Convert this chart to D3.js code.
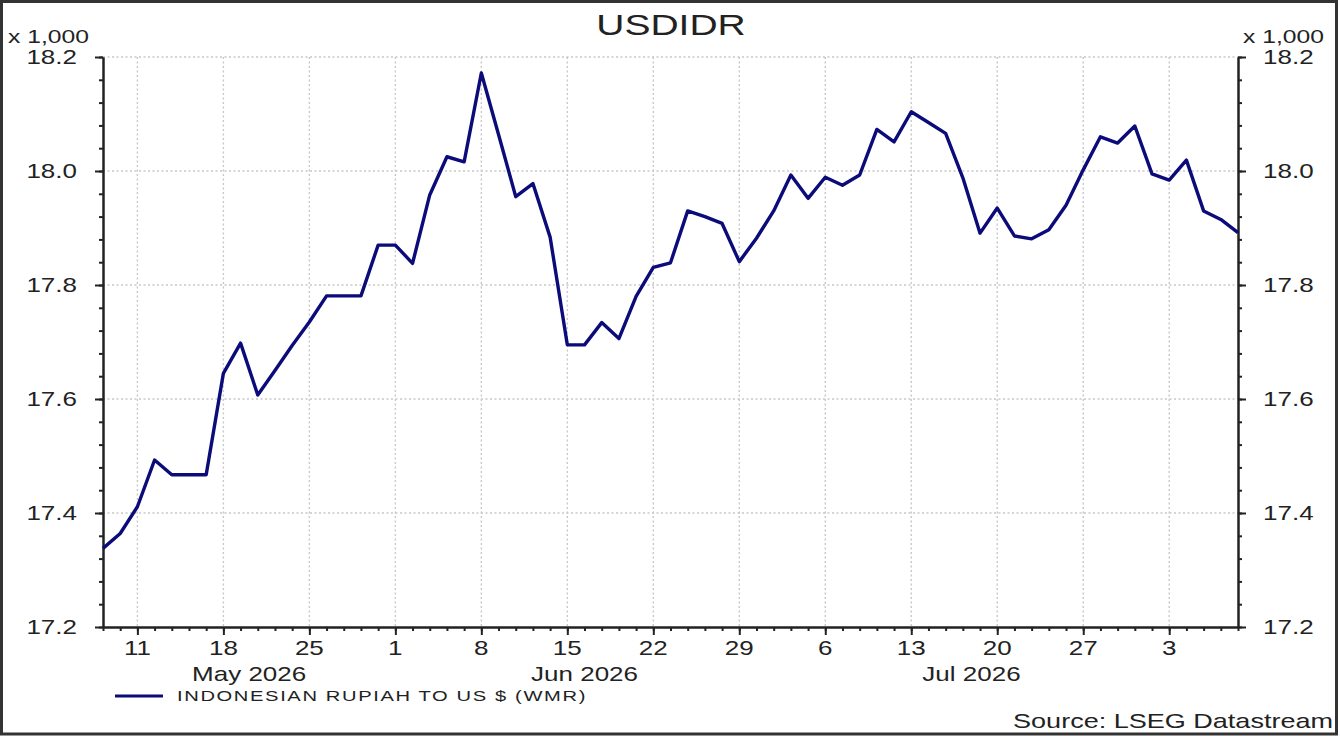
<!DOCTYPE html>
<html>
<head>
<meta charset="utf-8">
<script src="https://cdn.jsdelivr.net/npm/d3@7"></script>
<style>
  html, body { margin: 0; padding: 0; background: #fff; }
  svg { display: block; }
</style>
</head>
<body>
<div id="chart"></div>
<script>
// Business days shown on the x axis (one point per trading day)
const dates = [
    "2026-05-07", "2026-05-08",
    "2026-05-11", "2026-05-12", "2026-05-13", "2026-05-14", "2026-05-15",
    "2026-05-18", "2026-05-19", "2026-05-20", "2026-05-21", "2026-05-22",
    "2026-05-25", "2026-05-26", "2026-05-27", "2026-05-28", "2026-05-29",
    "2026-06-01", "2026-06-02", "2026-06-03", "2026-06-04", "2026-06-05",
    "2026-06-08", "2026-06-09", "2026-06-10", "2026-06-11", "2026-06-12",
    "2026-06-15", "2026-06-16", "2026-06-17", "2026-06-18", "2026-06-19",
    "2026-06-22", "2026-06-23", "2026-06-24", "2026-06-25", "2026-06-26",
    "2026-06-29", "2026-06-30", "2026-07-01", "2026-07-02", "2026-07-03",
    "2026-07-06", "2026-07-07", "2026-07-08", "2026-07-09", "2026-07-10",
    "2026-07-13", "2026-07-14", "2026-07-15", "2026-07-16", "2026-07-17",
    "2026-07-20", "2026-07-21", "2026-07-22", "2026-07-23", "2026-07-24",
    "2026-07-27", "2026-07-28", "2026-07-29", "2026-07-30", "2026-07-31",
    "2026-08-03", "2026-08-04", "2026-08-05", "2026-08-06", "2026-08-07"
];

// Indonesian rupiah per US dollar
const rates = [
    17338, 17364,
    17411, 17493, 17467, 17467, 17467,
    17645, 17698, 17607, 17650, 17694,
    17735, 17781, 17781, 17781, 17870,
    17870, 17838, 17958, 18025, 18016,
    18172, 18064, 17955, 17978, 17884,
    17695, 17695, 17734, 17706, 17780,
    17831, 17839, 17930, 17920, 17908,
    17841, 17882, 17930, 17993, 17952,
    17989, 17975, 17993, 18073, 18051,
    18104, 18085, 18066, 17988, 17891,
    17935, 17886, 17881, 17897, 17940,
    18002, 18060, 18049, 18079, 17995,
    17984, 18019, 17930, 17915, 17892
];

const yTicks = [17200, 17400, 17600, 17800, 18000, 18200];
const monthNames = ["May 2026", "Jun 2026", "Jul 2026"];
const monthStarts = ["2026-05-07", "2026-06-01", "2026-07-01", "2026-08-03"];

const titleText = "USDIDR";
const seriesName = "INDONESIAN RUPIAH TO US $ (WMR)";
const sourceText = "Source: LSEG Datastream";
const unitText = "x 1,000";

// Layout
const width = 1340, height = 736;
const plotLeft = 103, plotRight = 1238, plotTop = 57, plotBottom = 627;
const SX = 1.3;   // the original text is drawn wide
const font = "'Liberation Sans', Arial, sans-serif";
const ink = "#222";
const navy = "#0b0b7a";

const svg = d3.select("#chart").append("svg")
    .attr("width", width)
    .attr("height", height)
    .style("font-family", font);

const x = d3.scalePoint().domain(dates).range([plotLeft, plotRight]).padding(0);
const y = d3.scaleLinear().domain([17200, 18200]).range([plotBottom, plotTop]);

// Helper for horizontally stretched labels
function label(px, py, str, size, anchor) {
    return svg.append("text")
        .attr("transform", `translate(${px},${py}) scale(${SX},1)`)
        .attr("text-anchor", anchor || "middle")
        .attr("font-size", size)
        .attr("fill", ink)
        .text(str);
}

const parse = d3.timeParse("%Y-%m-%d");
const mondays = dates.filter(d => parse(d).getDay() === 1);
const minorY = d3.range(17200, 18201, 40);

// Grid (dotted)
const grid = svg.append("g")
    .attr("stroke", "#c8c8c8")
    .attr("stroke-width", 1.4)
    .attr("stroke-dasharray", "2,2.5");

grid.selectAll("line.h")
    .data(yTicks.slice(1))
    .join("line")
    .attr("class", "h")
    .attr("x1", plotLeft).attr("x2", plotRight)
    .attr("y1", d => y(d)).attr("y2", d => y(d));

grid.selectAll("line.v")
    .data(mondays)
    .join("line")
    .attr("class", "v")
    .attr("x1", d => x(d)).attr("x2", d => x(d))
    .attr("y1", plotTop).attr("y2", plotBottom);

// Axes: minor ticks, then major ticks with domain lines
function styleAxis(g) {
    g.selectAll("path, line").attr("stroke", ink).attr("stroke-width", 2);
    g.selectAll("text").remove();
}

svg.append("g").attr("transform", `translate(${plotLeft},0)`)
    .call(d3.axisLeft(y).tickValues(minorY).tickSize(4).tickSizeOuter(0).tickFormat(""))
    .call(styleAxis);
svg.append("g").attr("transform", `translate(${plotLeft},0)`)
    .call(d3.axisLeft(y).tickValues(yTicks).tickSize(8).tickSizeOuter(0).tickFormat(""))
    .call(styleAxis);

svg.append("g").attr("transform", `translate(${plotRight},0)`)
    .call(d3.axisRight(y).tickValues(minorY).tickSize(4).tickSizeOuter(0).tickFormat(""))
    .call(styleAxis);
svg.append("g").attr("transform", `translate(${plotRight},0)`)
    .call(d3.axisRight(y).tickValues(yTicks).tickSize(8).tickSizeOuter(0).tickFormat(""))
    .call(styleAxis);

svg.append("g").attr("transform", `translate(0,${plotBottom})`)
    .call(d3.axisBottom(x).tickValues(dates).tickSize(4).tickSizeOuter(0).tickFormat(""))
    .call(styleAxis);
svg.append("g").attr("transform", `translate(0,${plotBottom})`)
    .call(d3.axisBottom(x).tickValues(mondays).tickSize(8).tickSizeOuter(0).tickFormat(""))
    .call(styleAxis);

// Y labels on both sides
const fmtY = v => d3.format(".1f")(v / 1000);
yTicks.forEach(v => {
    label(77, y(v) + 7, fmtY(v), 20, "end");
    label(1263, y(v) + 7, fmtY(v), 20, "start");
});
label(8, 43, unitText, 19, "start");
label(1243, 43, unitText, 19, "start");

// X labels: day of month on Mondays, month names centred on their span
mondays.forEach(d => {
    label(x(d), 655, String(parse(d).getDate()), 20, "middle");
});
monthNames.forEach((m, i) => {
    const cx = (x(monthStarts[i]) + x(monthStarts[i + 1])) / 2;
    label(cx, 681, m, 20, "middle");
});

// Series line
const line = d3.line()
    .x((d, i) => x(dates[i]))
    .y(d => y(d));

svg.append("path")
    .datum(rates)
    .attr("fill", "none")
    .attr("stroke", navy)
    .attr("stroke-width", 3.4)
    .attr("stroke-linejoin", "round")
    .attr("d", line);

// Title
label(671, 35, titleText, 30, "middle");

// Legend
svg.append("line")
    .attr("x1", 115).attr("x2", 163)
    .attr("y1", 696).attr("y2", 696)
    .attr("stroke", navy)
    .attr("stroke-width", 3);
label(177, 701, seriesName, 15.5, "start")
    .attr("letter-spacing", 1.25);

// Source
label(1333, 728, sourceText, 20.8, "end");

// Outer frame
svg.append("rect")
    .attr("x", 1.5).attr("y", 1.5)
    .attr("width", 1335).attr("height", 732.5)
    .attr("fill", "none")
    .attr("stroke", "#333")
    .attr("stroke-width", 3);
</script>
</body>
</html>
